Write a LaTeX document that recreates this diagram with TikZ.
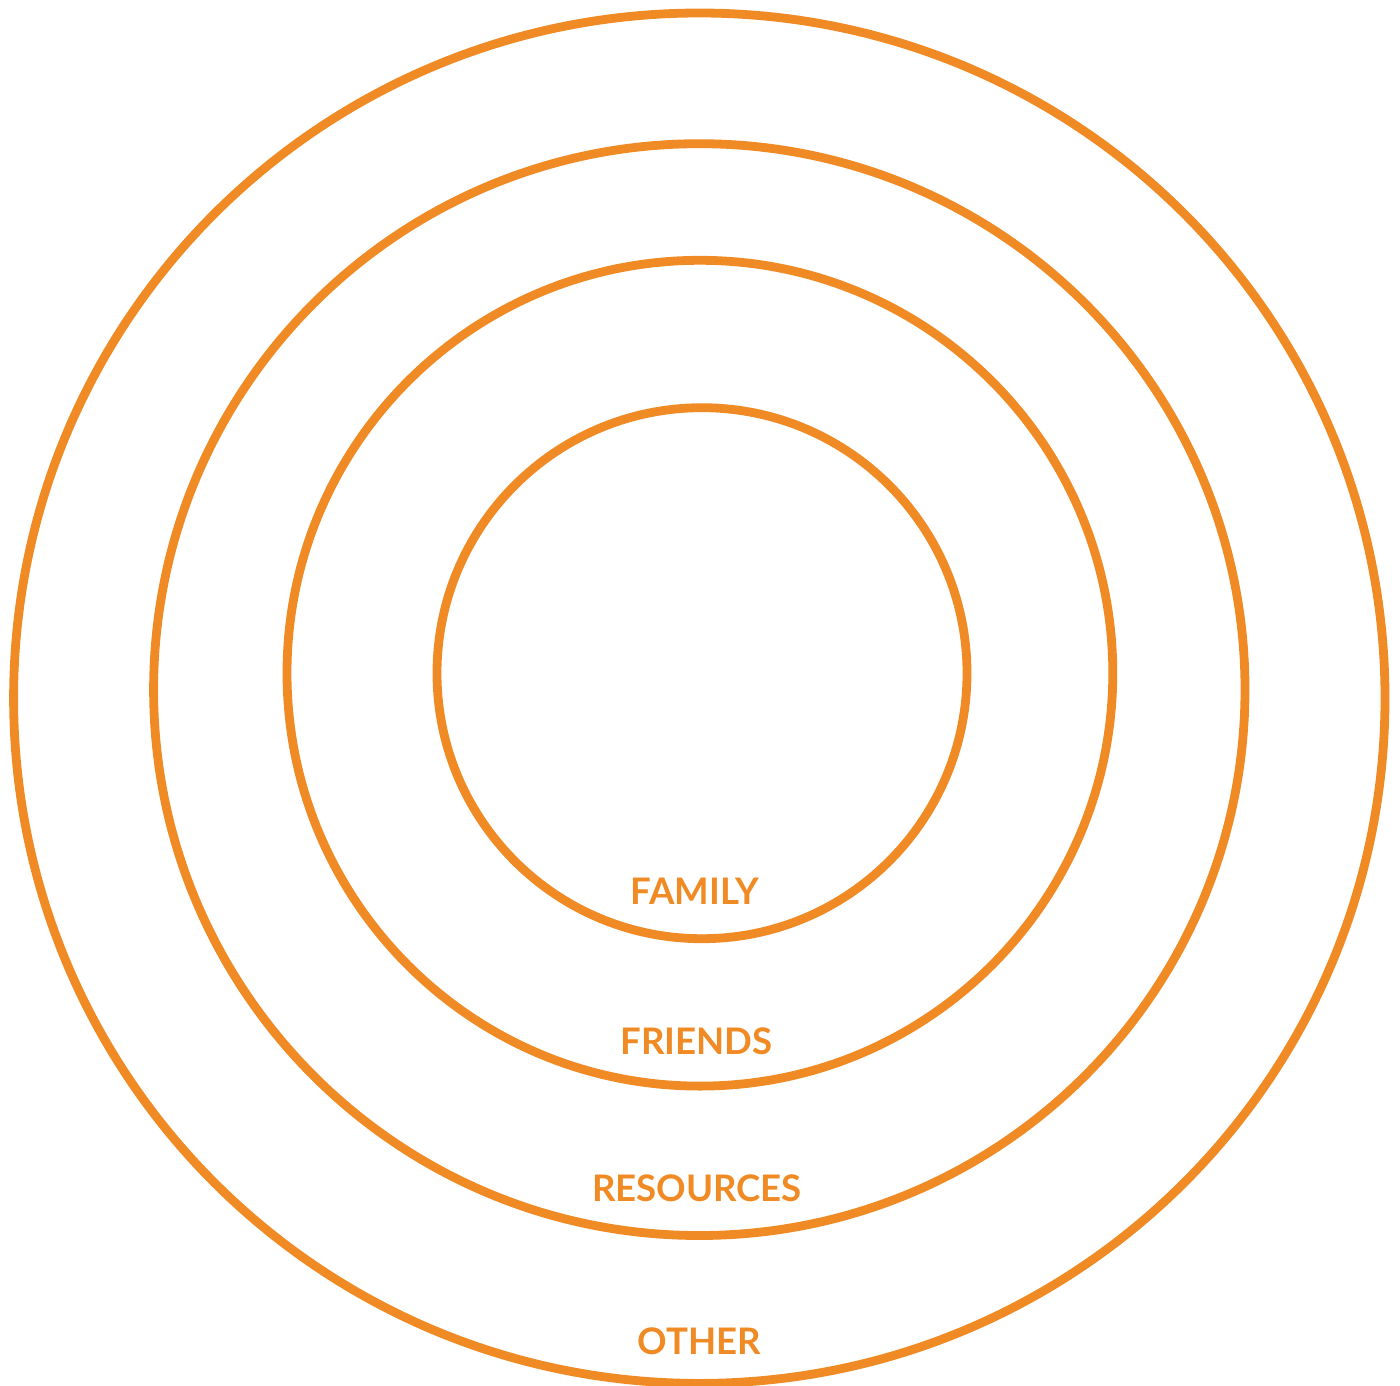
\documentclass[tikz,border=0pt]{standalone}
\usepackage{fontspec}
\newfontfamily\latofont{Lato}
\definecolor{ring}{HTML}{F08A24}
\begin{document}
\begin{tikzpicture}[x=1pt,y=-1pt,
  ringline/.style={draw=ring,line width=8.8pt},
  lbl/.style={text=ring,font=\latofont\bfseries\fontsize{36.6}{36.6}\selectfont,anchor=base,inner sep=0pt}]
\useasboundingbox (0,0) rectangle (1400,1386);
\draw[ringline] (699.3,698.2) ellipse [x radius=685.7,y radius=685.2];
\draw[ringline] (699.3,689.6) ellipse [x radius=545.7,y radius=545.9];
\draw[ringline] (699.9,673.2) ellipse [x radius=412.9,y radius=412.9];
\draw[ringline] (702,673.2) ellipse [x radius=265,y radius=265.5];
\node[lbl] (family) at (695,904) {FAMILY};
\node[lbl] (friends) at (696.7,1054.3) {FRIENDS};
\node[lbl] (resources) at (697,1201) {RESOURCES};
\node[lbl] (other) at (699.5,1354.5) {OTHER};
\end{tikzpicture}
\end{document}
